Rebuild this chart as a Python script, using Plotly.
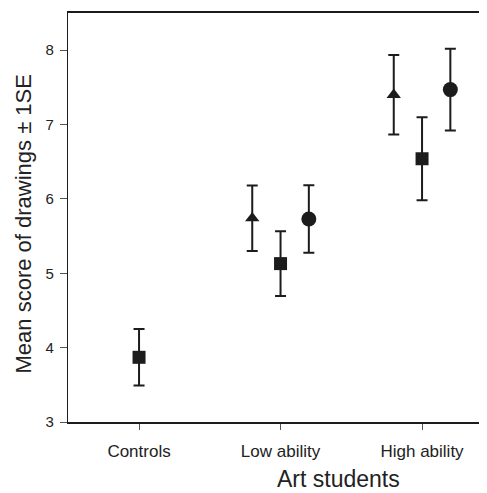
import plotly.graph_objects as go

categories = ["Controls", "Low ability", "High ability"]
cat_pos = [0, 1, 2]
y_ticks = [3, 4, 5, 6, 7, 8]

# values (mean, 1 SE)
tri_cats = [1, 2]
tri_vals = [5.74, 7.40]
tri_err = [0.44, 0.535]

sq_cats = [0, 1, 2]
sq_vals = [3.87, 5.13, 6.54]
sq_err = [0.38, 0.435, 0.558]

circ_cats = [1, 2]
circ_vals = [5.73, 7.47]
circ_err = [0.455, 0.55]

offsets = {"tri": -0.2, "sq": 0.0, "circ": 0.2}
ink = "#1c1c1c"
txt = "#222222"

fig = go.Figure()

def add(cats, vals, errs, off, symbol, size):
    fig.add_trace(go.Scatter(
        x=[c + off for c in cats], y=vals, mode="markers",
        marker=dict(symbol=symbol, size=size, color=ink, line=dict(width=0)),
        error_y=dict(type="data", array=errs, visible=True, color=ink,
                     thickness=2, width=5.5),
        showlegend=False, cliponaxis=False))

add(tri_cats, tri_vals, tri_err, offsets["tri"], "triangle-up", 12.5)
add(sq_cats, sq_vals, sq_err, offsets["sq"], "square", 13)
add(circ_cats, circ_vals, circ_err, offsets["circ"], "circle", 15)

font_family = "Liberation Sans, Arial, sans-serif"

# page body adds an 8px offset, so the figure is sized/margined to compensate
fig.update_layout(
    width=479, height=485,
    margin=dict(l=60, r=0, t=5, b=71, autoexpand=False),
    plot_bgcolor="white", paper_bgcolor="white",
    font=dict(family=font_family, color=txt),
    xaxis=dict(
        range=[-0.502, 2.459], tickmode="array", tickvals=cat_pos,
        ticktext=categories, showgrid=False, zeroline=False,
        showline=True, linecolor=ink, linewidth=1.5, mirror=True,
        ticks="outside", ticklen=6, tickwidth=1, tickcolor="#555",
        tickfont=dict(size=17, color=txt), ticklabelstandoff=7,
    ),
    yaxis=dict(
        range=[3, 8.5], tickmode="array", tickvals=y_ticks,
        showgrid=False, zeroline=False,
        showline=True, linecolor=ink, linewidth=1.2,
        ticks="outside", ticklen=7, tickwidth=1, tickcolor="#555",
        tickfont=dict(size=15, color=txt), ticklabelstandoff=3,
    ),
    annotations=[
        dict(text="Art students", xref="paper", yref="paper", x=0.5, y=0,
             xanchor="center", yanchor="bottom", yshift=-72,
             xshift=61, showarrow=False,
             font=dict(size=23, color=txt)),
        dict(text="Mean score of drawings \u00b1 1SE", xref="paper", yref="paper",
             x=0, y=0.5, xanchor="center", yanchor="middle", xshift=-45,
             yshift=-7, textangle=-90, showarrow=False,
             font=dict(size=22, color=txt)),
    ],
)

fig.write_html("out.html")
